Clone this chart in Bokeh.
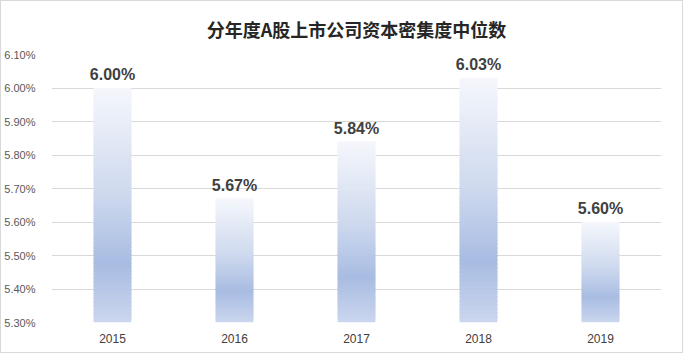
from bokeh.plotting import figure
from bokeh.models import Title, Range1d, NumeralTickFormatter, FixedTicker
from bokeh.embed import file_html
from bokeh.resources import INLINE
from bokeh.core.properties import value

years = ["2015", "2016", "2017", "2018", "2019"]
values = [6.00, 5.67, 5.84, 6.03, 5.60]
labels = ["6.00%", "5.67%", "5.84%", "6.03%", "5.60%"]
y_ticks = [5.30, 5.40, 5.50, 5.60, 5.70, 5.80, 5.90, 6.00, 6.10]
title_text = "分年度A股上市公司资本密集度中位数"

base = 5.30
N = 60

stops = [(0.0, (245, 247, 252)), (0.45, (206, 217, 238)), (0.75, (168, 188, 226)), (1.0, (203, 214, 238))]

def grad(t):
    for (t0, c0), (t1, c1) in zip(stops[:-1], stops[1:]):
        if t0 <= t <= t1:
            f = (t - t0) / (t1 - t0)
            return "#%02x%02x%02x" % tuple(int(round(a + (b - a) * f)) for a, b in zip(c0, c1))
    return "#%02x%02x%02x" % stops[-1][1]

xs, bots, tops, cols = [], [], [], []
for yr, v in zip(years, values):
    step = (v - base) / N
    for i in range(N):
        b = base + step * i
        t = min(v, base + step * (i + 1.6))
        frac_from_top = 1 - (i + 0.5) / N
        xs.append(yr); bots.append(b); tops.append(t); cols.append(grad(frac_from_top))

p = figure(x_range=years, width=683, height=353, output_backend="svg", toolbar_location=None,
           min_border_left=50, min_border_right=23, min_border_bottom=32, min_border_top=20)
p.y_range = Range1d(5.30, 6.10)
p.title = None
t = Title(text=title_text, align="center", text_font="Noto Sans CJK SC", text_font_size="18px",
          text_font_style="bold", text_color="#262626", standoff=25)
p.add_layout(t, "above")

p.vbar(x=xs, bottom=bots, top=tops, width=0.31, fill_color=cols, line_color=None)

p.text(x=years, y=values, text=labels, text_align="center", text_baseline="bottom", y_offset=-5,
       text_font=value("Liberation Sans"), text_font_size="16px", text_font_style="bold", text_color="#404040")

p.yaxis.ticker = FixedTicker(ticks=y_ticks)
p.yaxis.formatter = NumeralTickFormatter(format="0.00")
p.yaxis.major_label_overrides = {v: "%.2f%%" % v for v in y_ticks}
p.yaxis.axis_line_color = None
p.yaxis.major_tick_line_color = None
p.yaxis.minor_tick_line_color = None
p.yaxis.major_label_text_font = "Liberation Sans"
p.yaxis.major_label_text_font_size = "11px"
p.yaxis.major_label_text_color = "#595959"
p.yaxis.major_label_standoff = 10

p.xaxis.axis_line_color = None
p.xaxis.major_tick_line_color = None
p.xaxis.major_label_text_font = "Liberation Sans"
p.xaxis.major_label_text_font_size = "12px"
p.xaxis.major_label_text_color = "#404040"
p.xaxis.major_label_standoff = 5

p.xgrid.grid_line_color = None
p.ygrid.grid_line_color = "#d9d9d9"
p.outline_line_color = None
p.x_range.range_padding = 0
p.styles = {"border": "1px solid #d9d9d9", "box-sizing": "border-box"}

open("out.html", "w").write(file_html(p, INLINE))
